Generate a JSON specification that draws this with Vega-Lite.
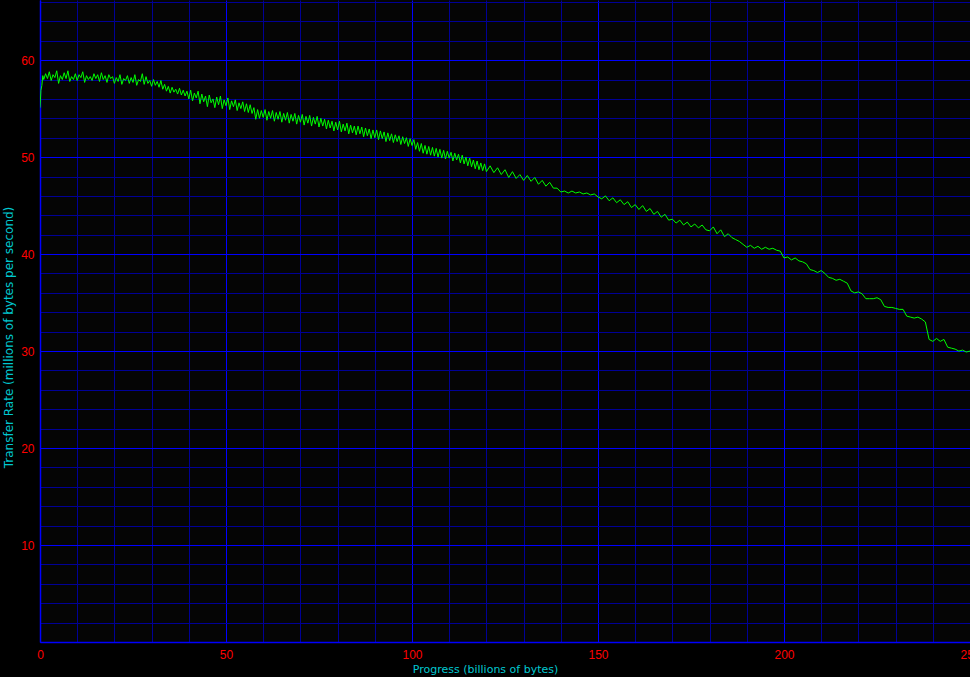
{
  "$schema": "https://vega.github.io/schema/vega-lite/v6.json",
  "autosize": {"type": "none"},
  "padding": {"left": 40, "top": 0, "right": 0, "bottom": 35},
  "width": 930,
  "height": 642,
  "background": "#000000",
  "config": {
    "view": {"stroke": null, "fill": "#050505"},
    "axis": {
      "labelFont": "Liberation Sans",
      "titleFont": "DejaVu Sans",
      "labelFontSize": 12,
      "titleFontSize": 11,
      "titleFontWeight": "normal",
      "labelColor": "#ff0000",
      "titleColor": "#00c8d0",
      "ticks": false,
      "domainColor": "#0000ff",
      "domainWidth": 1.5,
      "labelFlush": false,
      "labelOverlap": false,
      "labelBound": false,
      "gridOpacity": 1
    }
  },
  "data": {
    "values": [
      {"progress": 0, "rate": 55.1}, {"progress": 0.25, "rate": 56.9}, {"progress": 0.5, "rate": 57.4}, {"progress": 0.75, "rate": 58.4},
      {"progress": 1, "rate": 58.0}, {"progress": 1.5, "rate": 58.6}, {"progress": 2, "rate": 58.1}, {"progress": 2.5, "rate": 58.8},
      {"progress": 3, "rate": 57.9}, {"progress": 3.5, "rate": 58.5}, {"progress": 4, "rate": 58.2}, {"progress": 4.5, "rate": 58.9},
      {"progress": 5, "rate": 57.6}, {"progress": 5.5, "rate": 58.4}, {"progress": 6, "rate": 58.0}, {"progress": 6.5, "rate": 58.7},
      {"progress": 7, "rate": 58.1}, {"progress": 7.5, "rate": 58.9}, {"progress": 8, "rate": 57.8}, {"progress": 8.5, "rate": 58.3},
      {"progress": 9, "rate": 58.0}, {"progress": 9.5, "rate": 58.6}, {"progress": 10, "rate": 57.9}, {"progress": 10.5, "rate": 58.5},
      {"progress": 11, "rate": 58.2}, {"progress": 11.5, "rate": 58.8}, {"progress": 12, "rate": 57.7}, {"progress": 12.5, "rate": 58.4},
      {"progress": 13, "rate": 58.0}, {"progress": 13.5, "rate": 58.3}, {"progress": 14, "rate": 57.9}, {"progress": 14.5, "rate": 58.6},
      {"progress": 15, "rate": 58.1}, {"progress": 15.5, "rate": 58.5}, {"progress": 16, "rate": 57.8}, {"progress": 16.5, "rate": 58.7},
      {"progress": 17, "rate": 58.0}, {"progress": 17.5, "rate": 58.4}, {"progress": 18, "rate": 57.7}, {"progress": 18.5, "rate": 58.5},
      {"progress": 19, "rate": 58.1}, {"progress": 19.5, "rate": 58.3}, {"progress": 20, "rate": 57.6}, {"progress": 20.5, "rate": 58.2},
      {"progress": 21, "rate": 57.8}, {"progress": 21.5, "rate": 58.5}, {"progress": 22, "rate": 57.5}, {"progress": 22.5, "rate": 58.1},
      {"progress": 23, "rate": 57.9}, {"progress": 23.5, "rate": 58.4}, {"progress": 24, "rate": 57.6}, {"progress": 24.5, "rate": 58.2},
      {"progress": 25, "rate": 57.7}, {"progress": 25.5, "rate": 58.5}, {"progress": 26, "rate": 57.4}, {"progress": 26.5, "rate": 58.0},
      {"progress": 27, "rate": 57.8}, {"progress": 27.5, "rate": 58.6}, {"progress": 28, "rate": 57.5}, {"progress": 28.5, "rate": 58.3},
      {"progress": 29, "rate": 57.6}, {"progress": 29.5, "rate": 57.9}, {"progress": 30, "rate": 57.3}, {"progress": 30.5, "rate": 58.0},
      {"progress": 31, "rate": 57.4}, {"progress": 31.5, "rate": 57.8}, {"progress": 32, "rate": 57.2}, {"progress": 32.5, "rate": 57.9},
      {"progress": 33, "rate": 57.0}, {"progress": 33.5, "rate": 57.5}, {"progress": 34, "rate": 56.8}, {"progress": 34.5, "rate": 57.3},
      {"progress": 35, "rate": 56.6}, {"progress": 35.5, "rate": 57.2}, {"progress": 36, "rate": 56.7}, {"progress": 36.5, "rate": 57.0},
      {"progress": 37, "rate": 56.5}, {"progress": 37.5, "rate": 57.1}, {"progress": 38, "rate": 56.4}, {"progress": 38.5, "rate": 56.9},
      {"progress": 39, "rate": 56.3}, {"progress": 39.5, "rate": 56.8},
      {"progress": 40, "rate": 56.0}, {"progress": 40.5, "rate": 56.9}, {"progress": 41, "rate": 55.8}, {"progress": 41.5, "rate": 56.6},
      {"progress": 42, "rate": 56.1}, {"progress": 42.5, "rate": 56.8}, {"progress": 43, "rate": 55.5}, {"progress": 43.5, "rate": 56.5},
      {"progress": 44, "rate": 55.7}, {"progress": 44.5, "rate": 56.3}, {"progress": 45, "rate": 55.2}, {"progress": 45.5, "rate": 56.4},
      {"progress": 46, "rate": 55.6}, {"progress": 46.5, "rate": 56.0}, {"progress": 47, "rate": 55.1}, {"progress": 47.5, "rate": 56.2},
      {"progress": 48, "rate": 55.4}, {"progress": 48.5, "rate": 56.3}, {"progress": 49, "rate": 55.0}, {"progress": 49.5, "rate": 55.9},
      {"progress": 50, "rate": 55.3}, {"progress": 50.5, "rate": 56.1}, {"progress": 51, "rate": 54.9}, {"progress": 51.5, "rate": 55.8},
      {"progress": 52, "rate": 55.2}, {"progress": 52.5, "rate": 55.9}, {"progress": 53, "rate": 54.8}, {"progress": 53.5, "rate": 55.6},
      {"progress": 54, "rate": 55.0}, {"progress": 54.5, "rate": 55.7}, {"progress": 55, "rate": 54.7}, {"progress": 55.5, "rate": 55.5},
      {"progress": 56, "rate": 54.6}, {"progress": 56.5, "rate": 55.4}, {"progress": 57, "rate": 54.5}, {"progress": 57.5, "rate": 55.1},
      {"progress": 58, "rate": 53.9}, {"progress": 58.5, "rate": 54.9}, {"progress": 59, "rate": 54.0}, {"progress": 59.5, "rate": 54.8},
      {"progress": 60, "rate": 54.1}, {"progress": 60.5, "rate": 54.9}, {"progress": 61, "rate": 53.8}, {"progress": 61.5, "rate": 54.7},
      {"progress": 62, "rate": 54.0}, {"progress": 62.5, "rate": 54.8}, {"progress": 63, "rate": 53.7}, {"progress": 63.5, "rate": 54.6},
      {"progress": 64, "rate": 53.9}, {"progress": 64.5, "rate": 54.7}, {"progress": 65, "rate": 53.6}, {"progress": 65.5, "rate": 54.5},
      {"progress": 66, "rate": 53.8}, {"progress": 66.5, "rate": 54.6}, {"progress": 67, "rate": 53.5}, {"progress": 67.5, "rate": 54.4},
      {"progress": 68, "rate": 53.7}, {"progress": 68.5, "rate": 54.5}, {"progress": 69, "rate": 53.4}, {"progress": 69.5, "rate": 54.3},
      {"progress": 70, "rate": 53.6}, {"progress": 70.5, "rate": 54.4}, {"progress": 71, "rate": 53.3}, {"progress": 71.5, "rate": 54.2},
      {"progress": 72, "rate": 53.5}, {"progress": 72.5, "rate": 54.3}, {"progress": 73, "rate": 53.2}, {"progress": 73.5, "rate": 54.1},
      {"progress": 74, "rate": 53.4}, {"progress": 74.5, "rate": 54.2}, {"progress": 75, "rate": 53.1}, {"progress": 75.5, "rate": 54.0},
      {"progress": 76, "rate": 53.2}, {"progress": 76.5, "rate": 53.9}, {"progress": 77, "rate": 52.9}, {"progress": 77.5, "rate": 53.8},
      {"progress": 78, "rate": 53.0}, {"progress": 78.5, "rate": 53.7}, {"progress": 79, "rate": 52.7}, {"progress": 79.5, "rate": 53.6},
      {"progress": 80, "rate": 52.8}, {"progress": 80.5, "rate": 53.7}, {"progress": 81, "rate": 52.6}, {"progress": 81.5, "rate": 53.4},
      {"progress": 82, "rate": 52.7}, {"progress": 82.5, "rate": 53.5}, {"progress": 83, "rate": 52.4}, {"progress": 83.5, "rate": 53.3},
      {"progress": 84, "rate": 52.5}, {"progress": 84.5, "rate": 53.2}, {"progress": 85, "rate": 52.3}, {"progress": 85.5, "rate": 53.2},
      {"progress": 86, "rate": 52.4}, {"progress": 86.5, "rate": 53.1}, {"progress": 87, "rate": 52.1}, {"progress": 87.5, "rate": 53.0},
      {"progress": 88, "rate": 52.2}, {"progress": 88.5, "rate": 52.9}, {"progress": 89, "rate": 51.9}, {"progress": 89.5, "rate": 52.8},
      {"progress": 90, "rate": 52.0}, {"progress": 90.5, "rate": 52.8}, {"progress": 91, "rate": 51.8}, {"progress": 91.5, "rate": 52.7},
      {"progress": 92, "rate": 51.9}, {"progress": 92.5, "rate": 52.6}, {"progress": 93, "rate": 51.6}, {"progress": 93.5, "rate": 52.5},
      {"progress": 94, "rate": 51.7}, {"progress": 94.5, "rate": 52.4}, {"progress": 95, "rate": 51.5}, {"progress": 95.5, "rate": 52.3},
      {"progress": 96, "rate": 51.6}, {"progress": 96.5, "rate": 52.2}, {"progress": 97, "rate": 51.3}, {"progress": 97.5, "rate": 52.1},
      {"progress": 98, "rate": 51.4}, {"progress": 98.5, "rate": 52.0}, {"progress": 99, "rate": 51.1}, {"progress": 99.5, "rate": 51.9},
      {"progress": 100, "rate": 51.2}, {"progress": 100.5, "rate": 51.8}, {"progress": 101, "rate": 50.8}, {"progress": 101.5, "rate": 51.5},
      {"progress": 102, "rate": 50.6}, {"progress": 102.5, "rate": 51.4}, {"progress": 103, "rate": 50.4}, {"progress": 103.5, "rate": 51.2},
      {"progress": 104, "rate": 50.3}, {"progress": 104.5, "rate": 51.1}, {"progress": 105, "rate": 50.2}, {"progress": 105.5, "rate": 51.0},
      {"progress": 106, "rate": 50.1}, {"progress": 106.5, "rate": 50.9}, {"progress": 107, "rate": 50.0}, {"progress": 107.5, "rate": 50.8},
      {"progress": 108, "rate": 49.9}, {"progress": 108.5, "rate": 50.7}, {"progress": 109, "rate": 49.8}, {"progress": 109.5, "rate": 50.6},
      {"progress": 110, "rate": 49.9}, {"progress": 110.5, "rate": 50.5}, {"progress": 111, "rate": 49.6}, {"progress": 111.5, "rate": 50.4},
      {"progress": 112, "rate": 49.7}, {"progress": 112.5, "rate": 50.3}, {"progress": 113, "rate": 49.4}, {"progress": 113.5, "rate": 50.2},
      {"progress": 114, "rate": 49.3}, {"progress": 114.5, "rate": 50.0}, {"progress": 115, "rate": 49.1}, {"progress": 115.5, "rate": 49.9},
      {"progress": 116, "rate": 49.0}, {"progress": 116.5, "rate": 49.7}, {"progress": 117, "rate": 48.8}, {"progress": 117.5, "rate": 49.6},
      {"progress": 118, "rate": 48.7}, {"progress": 118.5, "rate": 49.4}, {"progress": 119, "rate": 48.6}, {"progress": 119.5, "rate": 49.3},
      {"progress": 120, "rate": 48.5},
      {"progress": 121, "rate": 49.1}, {"progress": 122, "rate": 48.4}, {"progress": 123, "rate": 48.9}, {"progress": 124, "rate": 48.2},
      {"progress": 125, "rate": 48.7}, {"progress": 126, "rate": 47.9}, {"progress": 127, "rate": 48.5}, {"progress": 128, "rate": 47.8},
      {"progress": 129, "rate": 48.2}, {"progress": 130, "rate": 47.6}, {"progress": 131, "rate": 48.1}, {"progress": 132, "rate": 47.5},
      {"progress": 133, "rate": 47.9}, {"progress": 134, "rate": 47.2}, {"progress": 135, "rate": 47.6}, {"progress": 136, "rate": 47.0},
      {"progress": 137, "rate": 47.4}, {"progress": 138, "rate": 46.8}, {"progress": 139, "rate": 46.8}, {"progress": 140, "rate": 46.4},
      {"progress": 141, "rate": 46.5}, {"progress": 142, "rate": 46.3}, {"progress": 143, "rate": 46.5}, {"progress": 144, "rate": 46.3},
      {"progress": 145, "rate": 46.4}, {"progress": 146, "rate": 46.2}, {"progress": 147, "rate": 46.3}, {"progress": 148, "rate": 46.1},
      {"progress": 149, "rate": 46.2}, {"progress": 150, "rate": 45.9},
      {"progress": 151, "rate": 45.7}, {"progress": 152, "rate": 46.0}, {"progress": 153, "rate": 45.5}, {"progress": 154, "rate": 45.8},
      {"progress": 155, "rate": 45.3}, {"progress": 156, "rate": 45.6}, {"progress": 157, "rate": 45.1}, {"progress": 158, "rate": 45.4},
      {"progress": 159, "rate": 44.8}, {"progress": 160, "rate": 45.1}, {"progress": 161, "rate": 44.6}, {"progress": 162, "rate": 45.0},
      {"progress": 163, "rate": 44.4}, {"progress": 164, "rate": 44.7}, {"progress": 165, "rate": 44.1}, {"progress": 166, "rate": 44.4},
      {"progress": 167, "rate": 43.8}, {"progress": 168, "rate": 44.1}, {"progress": 169, "rate": 43.5}, {"progress": 170, "rate": 43.6},
      {"progress": 171, "rate": 43.2}, {"progress": 172, "rate": 43.5}, {"progress": 173, "rate": 43.0}, {"progress": 174, "rate": 43.3},
      {"progress": 175, "rate": 42.8}, {"progress": 176, "rate": 43.1}, {"progress": 177, "rate": 42.7}, {"progress": 178, "rate": 43.0},
      {"progress": 179, "rate": 42.5}, {"progress": 180, "rate": 42.4},
      {"progress": 181, "rate": 42.8}, {"progress": 182, "rate": 42.1}, {"progress": 183, "rate": 42.5}, {"progress": 184, "rate": 41.8},
      {"progress": 185, "rate": 42.1}, {"progress": 186, "rate": 41.7}, {"progress": 187, "rate": 41.5}, {"progress": 188, "rate": 41.3},
      {"progress": 189, "rate": 41.0}, {"progress": 190, "rate": 40.7}, {"progress": 191, "rate": 40.9}, {"progress": 192, "rate": 40.6},
      {"progress": 193, "rate": 40.8}, {"progress": 194, "rate": 40.5}, {"progress": 195, "rate": 40.7}, {"progress": 196, "rate": 40.5},
      {"progress": 197, "rate": 40.6}, {"progress": 198, "rate": 40.4}, {"progress": 199, "rate": 40.3}, {"progress": 200, "rate": 39.6},
      {"progress": 201, "rate": 39.7}, {"progress": 202, "rate": 39.4}, {"progress": 203, "rate": 39.6}, {"progress": 204, "rate": 39.3},
      {"progress": 205, "rate": 39.2}, {"progress": 206, "rate": 39.0}, {"progress": 207, "rate": 38.4}, {"progress": 208, "rate": 38.3},
      {"progress": 209, "rate": 38.1}, {"progress": 210, "rate": 38.3}, {"progress": 211, "rate": 38.0}, {"progress": 212, "rate": 37.6},
      {"progress": 213, "rate": 37.5}, {"progress": 214, "rate": 37.3}, {"progress": 215, "rate": 37.4}, {"progress": 216, "rate": 37.2},
      {"progress": 217, "rate": 37.0}, {"progress": 218, "rate": 36.2}, {"progress": 219, "rate": 36.0}, {"progress": 220, "rate": 36.1},
      {"progress": 221, "rate": 35.9}, {"progress": 222, "rate": 35.4}, {"progress": 223, "rate": 35.4}, {"progress": 224, "rate": 35.4},
      {"progress": 225, "rate": 35.5}, {"progress": 226, "rate": 35.3}, {"progress": 227, "rate": 34.6}, {"progress": 228, "rate": 34.5},
      {"progress": 229, "rate": 34.5}, {"progress": 230, "rate": 34.4}, {"progress": 231, "rate": 34.3}, {"progress": 232, "rate": 34.3},
      {"progress": 233, "rate": 33.6}, {"progress": 234, "rate": 33.5}, {"progress": 235, "rate": 33.4}, {"progress": 236, "rate": 33.5},
      {"progress": 237, "rate": 33.3}, {"progress": 238, "rate": 33.0}, {"progress": 239, "rate": 31.2}, {"progress": 240, "rate": 31.0},
      {"progress": 241, "rate": 31.3}, {"progress": 242, "rate": 31.0}, {"progress": 243, "rate": 31.2}, {"progress": 244, "rate": 30.4},
      {"progress": 245, "rate": 30.3}, {"progress": 246, "rate": 30.2}, {"progress": 247, "rate": 30.0}, {"progress": 248, "rate": 30.1},
      {"progress": 249, "rate": 29.9}, {"progress": 250, "rate": 30.0}
    ]
  },
  "mark": {"type": "line", "color": "#00ff00", "strokeWidth": 1, "clip": true},
  "encoding": {
    "x": {
      "field": "progress",
      "type": "quantitative",
      "scale": {"domain": [0, 250], "nice": false, "zero": false},
      "axis": {
        "title": "Progress (billions of bytes)",
        "values": [0, 10, 20, 30, 40, 50, 60, 70, 80, 90, 100, 110, 120, 130, 140, 150, 160, 170, 180, 190, 200, 210, 220, 230, 240, 250],
        "labelExpr": "datum.value % 50 === 0 ? datum.label : ''",
        "labelPadding": 7,
        "gridColor": {"condition": {"test": "datum.value % 50 === 0", "value": "#0000ff"}, "value": "#000096"},
        "gridWidth": 1,
        "titleX": 445,
        "titleY": 27,
        "titleBaseline": "middle",
        "titleAnchor": "middle"
      }
    },
    "y": {
      "field": "rate",
      "type": "quantitative",
      "scale": {"domain": [0, 66.2], "nice": false, "zero": false},
      "axis": {
        "title": "Transfer Rate (millions of bytes per second)",
        "titleFontSize": 12,
        "values": [0, 2, 4, 6, 8, 10, 12, 14, 16, 18, 20, 22, 24, 26, 28, 30, 32, 34, 36, 38, 40, 42, 44, 46, 48, 50, 52, 54, 56, 58, 60, 62, 64, 66],
        "labelExpr": "datum.value % 10 === 0 && datum.value > 0 ? datum.label : ''",
        "labelPadding": 6,
        "gridColor": {"condition": {"test": "datum.value % 10 === 0", "value": "#0000ff"}, "value": "#000096"},
        "gridWidth": 1,
        "titleX": -32,
        "titleY": 337,
        "titleAngle": -90,
        "titleBaseline": "middle",
        "titleAlign": "center"
      }
    }
  }
}
